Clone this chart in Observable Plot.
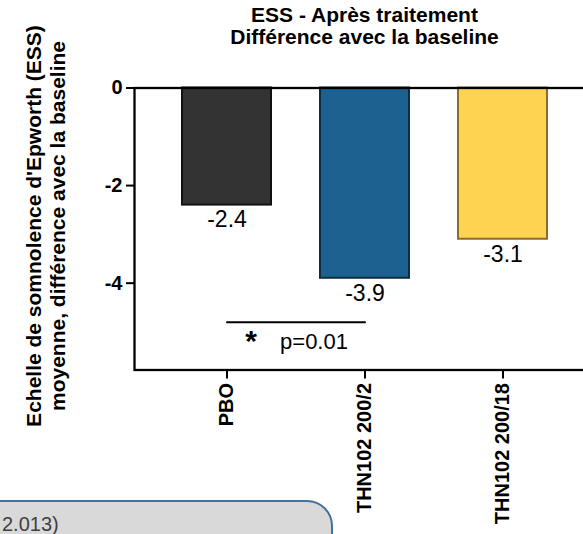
<!DOCTYPE html>
<html>
<head>
<meta charset="utf-8">
<script src="https://cdn.jsdelivr.net/npm/d3@7"></script>
<script src="https://cdn.jsdelivr.net/npm/@observablehq/plot@0.6"></script>
<style>
  html, body { margin: 0; padding: 0; background: white; overflow: hidden; }
  #wrap { position: relative; width: 583px; height: 534px; overflow: hidden; }
  #wrap svg { overflow: hidden; }
  #note {
    position: absolute; left: -30px; top: 500px; width: 363px; height: 80px;
    box-sizing: border-box; background: #d9d9d9; border: 2px solid #41719c;
    border-radius: 0 26px 0 0; padding: 11px 0 0 30px;
    font: 20px "Liberation Sans", Arial, sans-serif; color: #404040; white-space: nowrap;
  }
</style>
</head>
<body>
<div id="wrap"></div>
<script>
// ---- data ----
const categories = ["PBO", "THN102 200/2", "THN102 200/18"];
const values = [-2.4, -3.9, -3.1];
const yTicks = [0, -2, -4];
const yDomain = [-5.78, 0];
const titleLines = ["ESS - Après traitement", "Différence avec la baseline"];
const yLabelLines = ["Echelle de somnolence d'Epworth (ESS)", "moyenne, différence avec la baseline"];
const sigPair = ["PBO", "THN102 200/2"];
const sigY = -4.8;
const sigStar = "*";
const sigText = "p=0.01";
const noteText = "2.013)";

// ---- styles ----
const barFill = {"PBO": "#333333", "THN102 200/2": "#1d6190", "THN102 200/18": "#fdd352"};
const barStroke = {"PBO": "#111111", "THN102 200/2": "#0d2e3f", "THN102 200/18": "#8c6c2c"};

const table = categories.map((c, i) => ({category: c, value: values[i]}));
const sigRows = sigPair.map(c => ({category: c, y: sigY}));

const chart = Plot.plot({
  width: 583,
  height: 534,
  marginLeft: 134,
  marginRight: -11,
  marginTop: 87.5,
  marginBottom: 164.5,
  style: {fontFamily: "'Liberation Sans', Arial, sans-serif", background: "white", color: "black"},
  x: {domain: categories, paddingInner: 0.357, paddingOuter: 0.339, axis: null},
  y: {domain: yDomain, axis: null},
  color: {type: "identity"},
  marks: [
    Plot.barY(table, {x: "category", y: "value", fill: d => barFill[d.category], stroke: d => barStroke[d.category], strokeWidth: 2}),
    Plot.frame({stroke: "black", strokeWidth: 2.3}),
    Plot.axisY({ticks: yTicks, tickFormat: d => String(d), tickSize: 8, tickPadding: 4, strokeWidth: 2, fontSize: 20, fontWeight: "bold", label: null}),
    Plot.axisX({tickRotate: -90, tickSize: 9, tickPadding: 4, strokeWidth: 2, fontSize: 20, fontWeight: "bold", label: null}),
    Plot.text(table, {x: "category", y: "value", text: d => String(d.value), lineAnchor: "top", dy: 6, fontSize: 23}),
    Plot.line(sigRows, {x: "category", y: "y", stroke: "black", strokeWidth: 2}),
    Plot.text([sigStar], {x: [sigPair[0]], y: [sigY], text: [sigStar], dx: 24, dy: 19, fontSize: 30, fontWeight: "bold", lineAnchor: "middle"}),
    Plot.text([sigText], {x: [sigPair[1]], y: [sigY], text: [sigText], dx: -51, dy: 11, fontSize: 22, lineAnchor: "top"}),
    Plot.text([titleLines.join("\n")], {frameAnchor: "top", lineAnchor: "top", textAnchor: "middle", dy: -81.5, fontSize: 21, fontWeight: "bold", lineHeight: 22 / 21}),
    Plot.text([yLabelLines.join("\n")], {frameAnchor: "left", rotate: -90, lineAnchor: "top", textAnchor: "middle", dx: -111, dy: -3, fontSize: 21, fontWeight: "bold", lineHeight: 24 / 21})
  ]
});
const wrap = document.getElementById("wrap");
wrap.appendChild(chart);
const note = document.createElement("div");
note.id = "note";
note.textContent = noteText;
wrap.appendChild(note);
</script>
</body>
</html>
